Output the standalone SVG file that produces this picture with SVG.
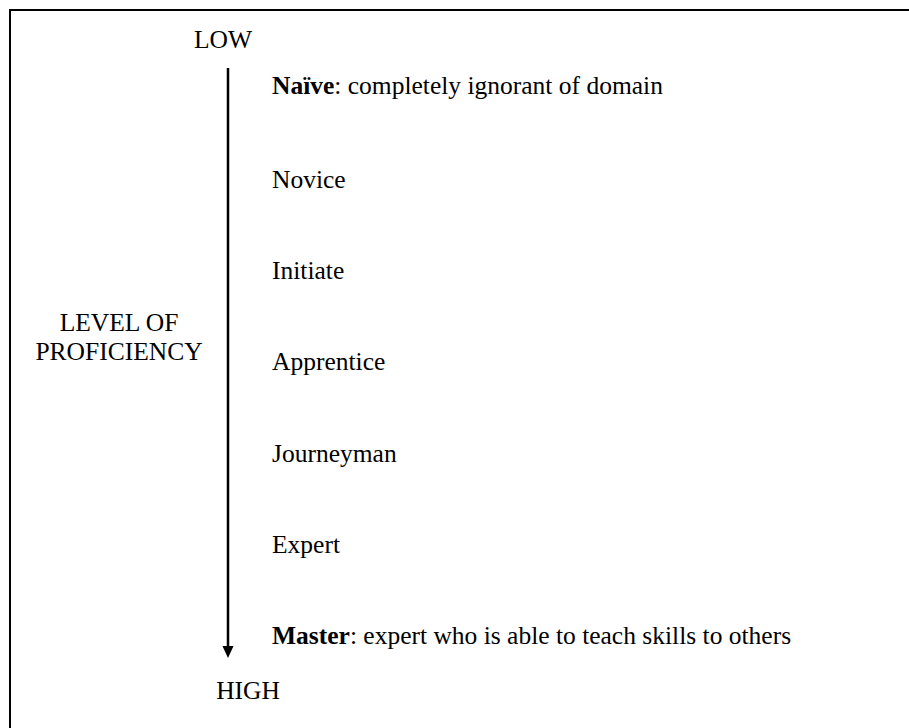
<svg xmlns="http://www.w3.org/2000/svg" width="909" height="728" viewBox="0 0 909 728">
  <style>
    text { font-family: "Liberation Serif", "Times New Roman", serif; font-size: 25.5px; fill: #000; }
    .b { font-weight: bold; }
    .mid { text-anchor: middle; }
  </style>
  <defs>
    <!-- filled triangle pointing along the line direction -->
    <marker id="head" markerWidth="12" markerHeight="13" refX="0" refY="6" orient="auto" markerUnits="userSpaceOnUse" viewBox="0 0 13 12">
      <path d="M0,0 L13,6 L0,12 Z" fill="#000"/>
    </marker>
  </defs>
  <rect width="909" height="728" fill="#fff"/>
  <!-- frame, open to the right and bottom edges -->
  <rect x="10" y="10" width="920" height="740" fill="none" stroke="#000" stroke-width="2"/>

  <g id="axis-labels">
    <text x="223" y="48" class="mid">LOW</text>
    <text x="119" y="331" class="mid">LEVEL OF</text>
    <text x="119" y="360" class="mid">PROFICIENCY</text>
    <text x="248" y="699" class="mid">HIGH</text>
  </g>

  <g id="connectors">
    <line x1="228" y1="68" x2="228" y2="646" stroke="#000" stroke-width="2.5" marker-end="url(#head)"/>
  </g>

  <g id="naive"><text x="272" y="94"><tspan class="b">Naïve</tspan>: completely ignorant of domain</text></g>
  <g id="novice"><text x="272" y="188">Novice</text></g>
  <g id="initiate"><text x="272" y="279">Initiate</text></g>
  <g id="apprentice"><text x="272" y="370">Apprentice</text></g>
  <g id="journeyman"><text x="272" y="462">Journeyman</text></g>
  <g id="expert"><text x="272" y="553">Expert</text></g>
  <g id="master"><text x="272" y="644"><tspan class="b">Master</tspan>: expert who is able to teach skills to others</text></g>
</svg>
